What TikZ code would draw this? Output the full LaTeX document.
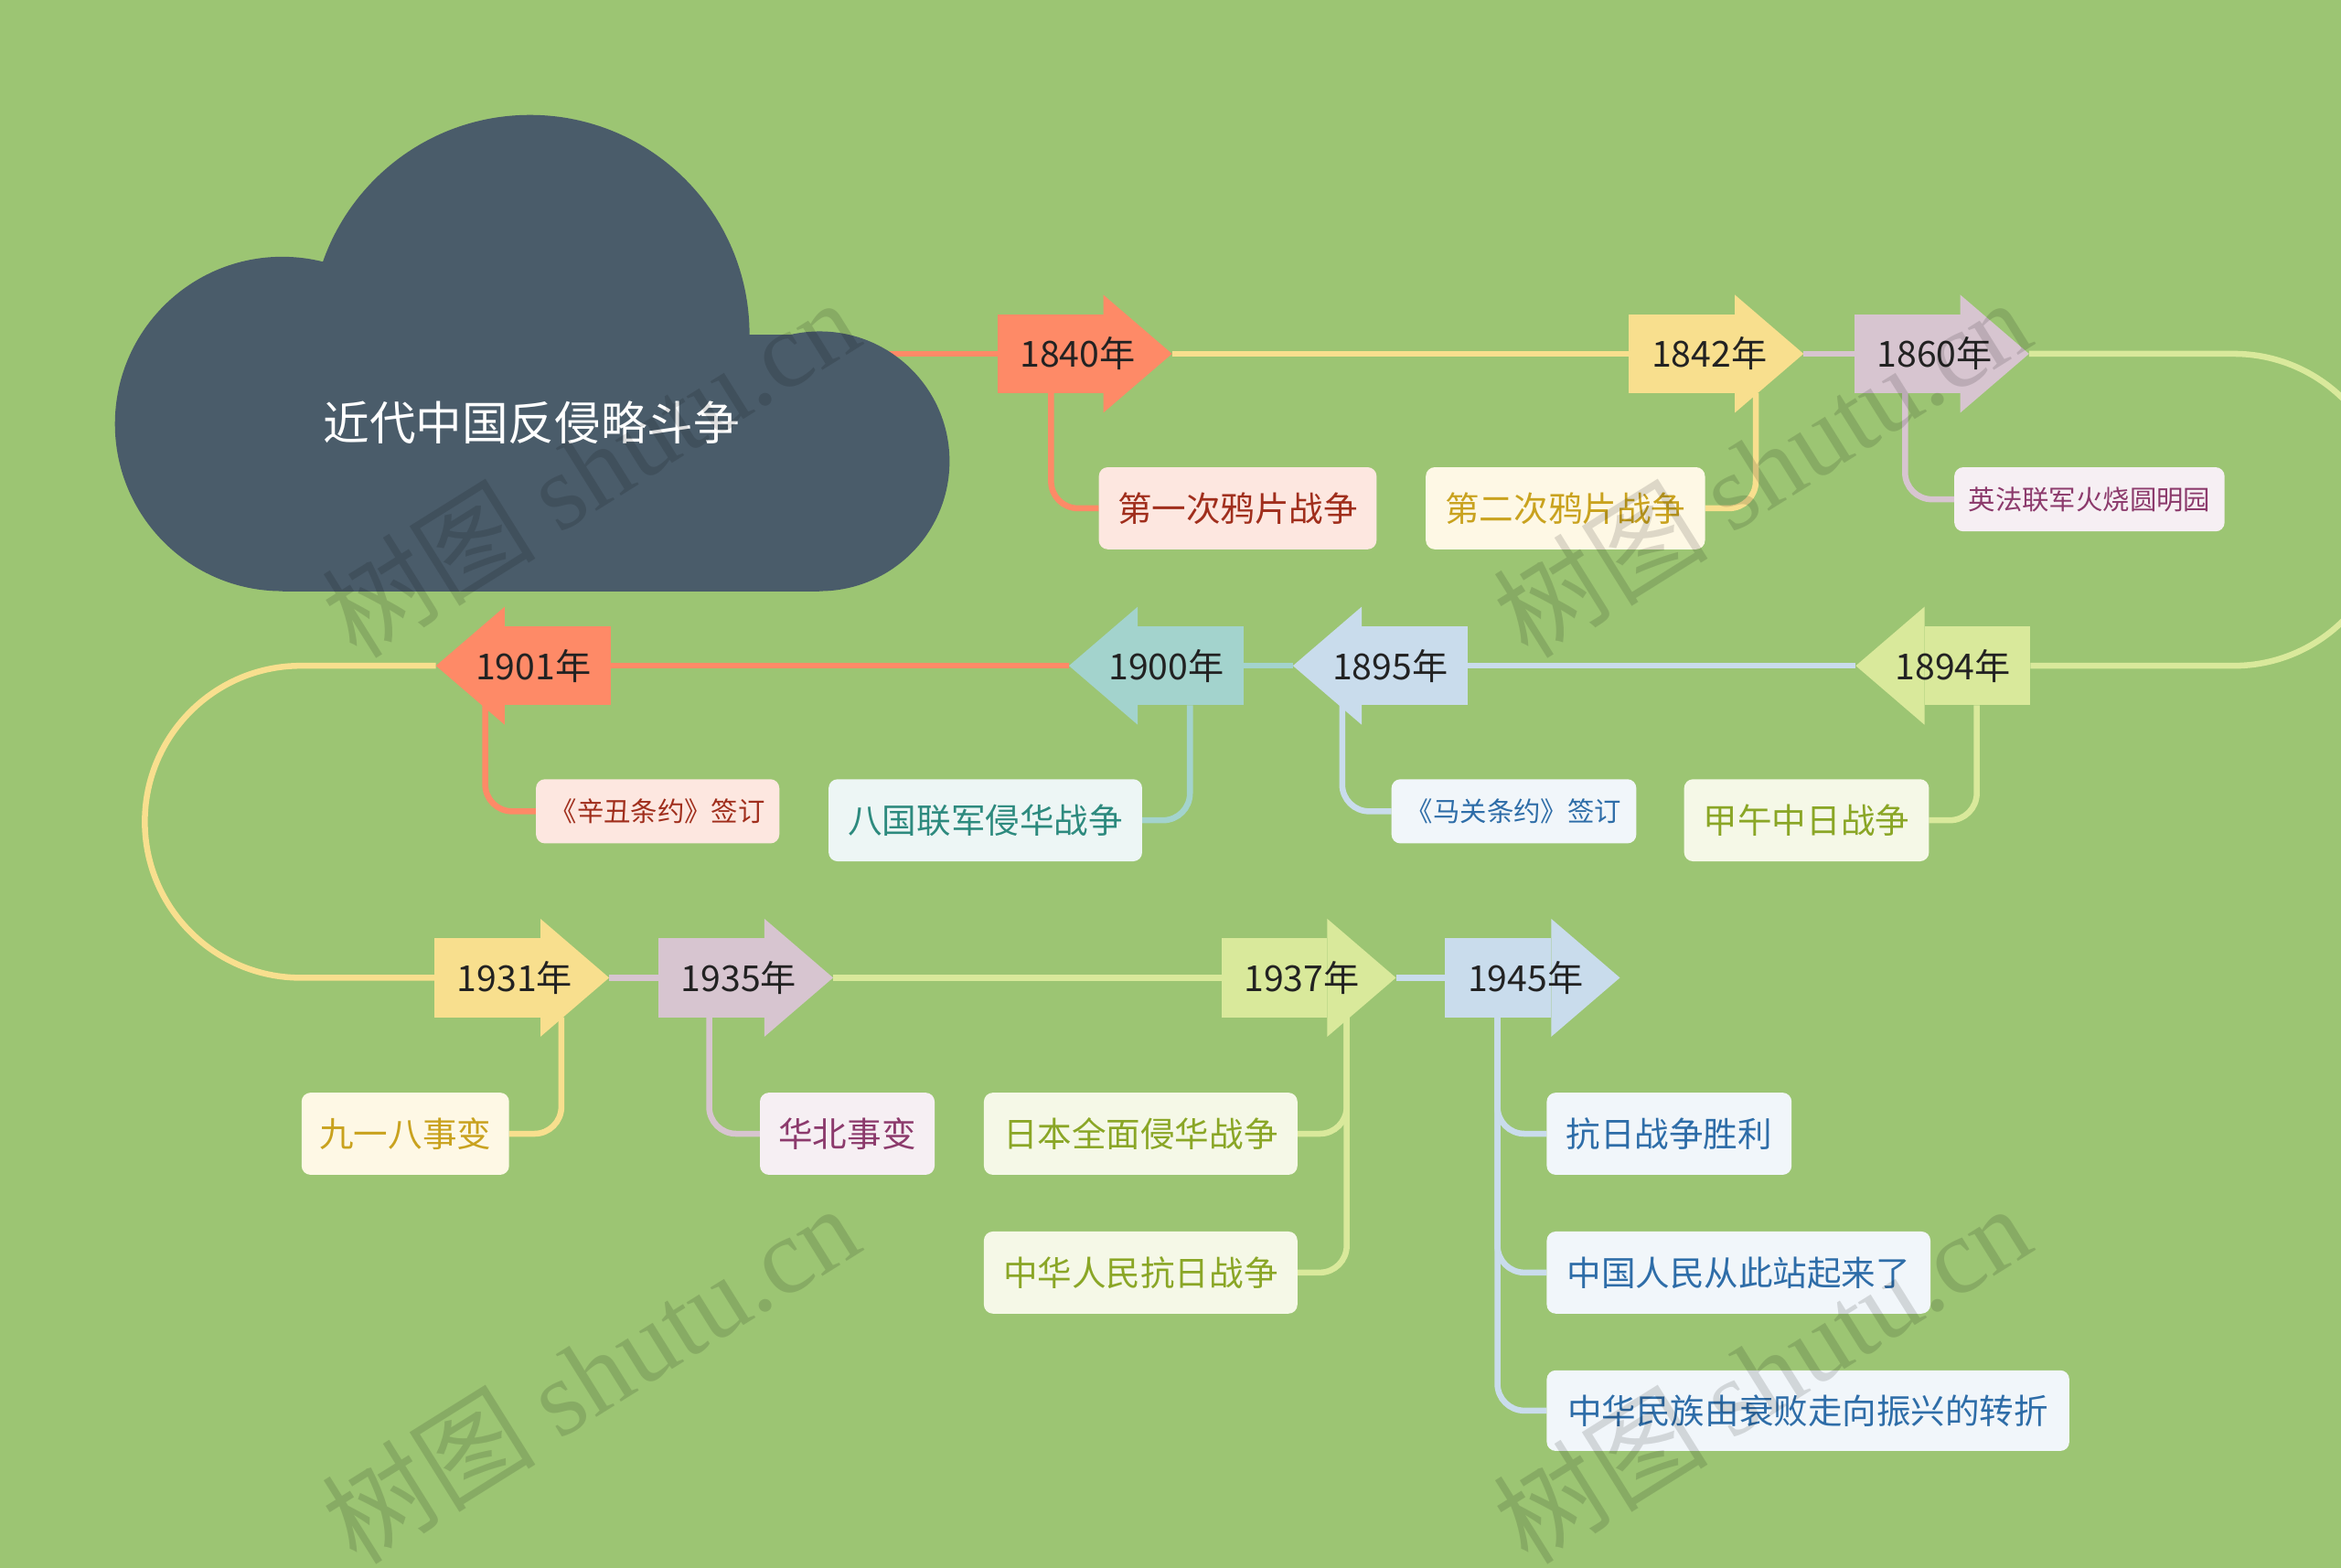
\documentclass[tikz,border=0pt]{standalone}
\usepackage{fontspec}
\newfontfamily\cjk{Noto Sans CJK SC}
\newfontfamily\wmserif{Liberation Serif}
\pgfdeclarelayer{bg}
\pgfsetlayers{bg,main}
\definecolor{bgc}{HTML}{9CC573}
\definecolor{cloudc}{HTML}{4A5C6A}
\definecolor{yrtxt}{HTML}{222222}
% arrow / line colours
\definecolor{aCoral}{HTML}{FE8A67}
\definecolor{aYellow}{HTML}{F8DF8E}
\definecolor{aLilac}{HTML}{D7C5D0}
\definecolor{aYG}{HTML}{D9E99B}
\definecolor{aLB}{HTML}{C9DCEC}
\definecolor{aTeal}{HTML}{A3D3CD}
% leaf fills
\definecolor{lCoral}{HTML}{FDE7E0}
\definecolor{lYellow}{HTML}{FEF8E5}
\definecolor{lLilac}{HTML}{F6EFF3}
\definecolor{lYG}{HTML}{F5F8E7}
\definecolor{lLB}{HTML}{F1F6FA}
\definecolor{lTeal}{HTML}{EDF6F5}
% leaf texts
\definecolor{tCoral}{HTML}{A02E1C}
\definecolor{tYellow}{HTML}{C9A21E}
\definecolor{tLilac}{HTML}{8C3A6C}
\definecolor{tYG}{HTML}{8AA626}
\definecolor{tLB}{HTML}{2E6DA8}
\definecolor{tTeal}{HTML}{2D8A7E}
\definecolor{wmc}{HTML}{000000}

\tikzset{
  yrbody/.style={minimum width=71pt, minimum height=53pt, inner sep=0pt, outer sep=0pt},
  yrtext/.style={font=\cjk\fontsize{24pt}{29pt}\selectfont, text=yrtxt, inner sep=0pt},
  leaf/.style={rounded corners=6pt, inner sep=0pt, outer sep=0pt, anchor=north west},
  big/.style={leaf, font=\cjk\fontsize{23pt}{28pt}\selectfont, minimum height=55pt},
  small/.style={leaf, font=\cjk\fontsize{18pt}{22pt}\selectfont, minimum height=43pt},
  fCoral/.style={fill=lCoral, text=tCoral},
  fYellow/.style={fill=lYellow, text=tYellow},
  fLilac/.style={fill=lLilac, text=tLilac},
  fYG/.style={fill=lYG, text=tYG},
  fLB/.style={fill=lLB, text=tLB},
  fTeal/.style={fill=lTeal, text=tTeal},
  tl/.style={line width=4pt},
  conn/.style={line width=4pt, rounded corners=18pt},
  wm/.style={font=\fontsize{72pt}{76pt}\selectfont, text=wmc, text opacity=0.13, rotate=32},
}

% right-pointing year arrow: name, body-left x, y, colour, label
\newcommand\yearR[5]{%
  \node[yrbody, fill=#4, anchor=west] (#1) at (#2,#3) {};
  \fill[#4] ([yshift=13pt]#1.north east) -- ([xshift=46pt]#1.east) -- ([yshift=-13pt]#1.south east) -- cycle;
  \node[yrtext, anchor=west] (#1-t) at ([xshift=15pt]#1.west) {#5};
  \coordinate (#1-tip) at ([xshift=46pt]#1.east);
}
% left-pointing year arrow: name, body-right x, y, colour, label
\newcommand\yearL[5]{%
  \node[yrbody, fill=#4, anchor=east] (#1) at (#2,#3) {};
  \fill[#4] ([yshift=13pt]#1.north west) -- ([xshift=-46pt]#1.west) -- ([yshift=-13pt]#1.south west) -- cycle;
  \node[yrtext, anchor=east] (#1-t) at ([xshift=-13pt]#1.east) {#5};
  \coordinate (#1-tip) at ([xshift=-46pt]#1.west);
}

\begin{document}
\begin{tikzpicture}[x=1pt, y=-1pt]
\useasboundingbox (0,0) rectangle (1568,1050.4);
\begin{pgfonlayer}{bg}
  \fill[bgc] (0,0) rectangle (1568,1050.4);
\end{pgfonlayer}

% cloud
\fill[cloudc] (189,284) circle[radius=112pt];
\fill[cloudc] (355,224) circle[radius=147pt];
\fill[cloudc] (549,309) circle[radius=87pt];
\fill[cloudc] (189,224) rectangle (549,396);
\node[font=\cjk\fontsize{31pt}{36pt}\selectfont, text=white] (root) at (356,283) {近代中国反侵略斗争};

% year arrows
\yearR{y1840}{668}{237}{aCoral}{1840年}
\yearR{y1842}{1091}{237}{aYellow}{1842年}
\yearR{y1860}{1242}{237}{aLilac}{1860年}
\yearL{y1894}{1360}{446}{aYG}{1894年}
\yearL{y1895}{983}{446}{aLB}{1895年}
\yearL{y1900}{833}{446}{aTeal}{1900年}
\yearL{y1901}{409}{446}{aCoral}{1901年}
\yearR{y1931}{291}{655}{aYellow}{1931年}
\yearR{y1935}{441}{655}{aLilac}{1935年}
\yearR{y1937}{818}{655}{aYG}{1937年}
\yearR{y1945}{968}{655}{aLB}{1945年}

% leaves
\node[big, fCoral, minimum width=186pt] (b1) at (736,313) {第一次鸦片战争};
\node[big, fYellow, minimum width=187pt] (b2) at (955,313) {第二次鸦片战争};
\node[small, fLilac, minimum width=181pt] (b3) at (1309,313) {英法联军火烧圆明园};
\node[big, fYG, minimum width=164pt] (b4) at (1128,522) {甲午中日战争};
\node[small, fLB, minimum width=164pt] (b5) at (932,522) {《马关条约》签订};
\node[big, fTeal, minimum width=210pt] (b6) at (555,522) {八国联军侵华战争};
\node[small, fCoral, minimum width=163pt] (b7) at (359,522) {《辛丑条约》签订};
\node[big, fYellow, minimum width=139pt] (b8) at (202,732) {九一八事变};
\node[big, fLilac, minimum width=117pt] (b9) at (509,732) {华北事变};
\node[big, fYG, minimum width=210pt] (b10) at (659,732) {日本全面侵华战争};
\node[big, fYG, minimum width=210pt] (b11) at (659,825) {中华人民抗日战争};
\node[big, fLB, minimum width=164pt] (b12) at (1036,732) {抗日战争胜利};
\node[big, fLB, minimum width=257pt] (b13) at (1036,825) {中国人民从此站起来了};
\node[big, fLB, minimum width=350pt, minimum height=54pt] (b14) at (1036,918) {中华民族由衰败走向振兴的转折};

% connectors (behind)
\begin{pgfonlayer}{bg}
  \coordinate (rootout) at (590,237);
  \draw[tl, aCoral] (rootout) -- (y1840.west);
  \draw[tl, aYellow] (y1840-tip) -- (y1842.west);
  \draw[tl, aLilac] (y1842-tip) -- (y1860.west);
  \draw[tl, aYG] (y1860-tip) -- (1496,237) arc[start angle=90, end angle=-90, radius=104.5pt] -- (y1894.east);
  \draw[tl, aLB] (y1894-tip) -- (y1895.east);
  \draw[tl, aTeal] (y1895-tip) -- (y1900.east);
  \draw[tl, aCoral] (y1900-tip) -- (y1901.east);
  \draw[tl, aYellow] (y1901-tip) -- (201.5,446) arc[start angle=90, end angle=270, radius=104.5pt] -- (y1931.west);
  \draw[tl, aLilac] (y1931-tip) -- (y1935.west);
  \draw[tl, aYG] (y1935-tip) -- (y1937.west);
  \draw[tl, aLB] (y1937-tip) -- (y1945.west);

  \draw[conn, aCoral] ([xshift=36pt]y1840.south west) |- (b1.west);
  \draw[conn, aYellow] ([xshift=85pt]y1842.south west) |- (b2.east);
  \draw[conn, aLilac] ([xshift=34pt]y1860.south west) |- (b3.west);
  \draw[conn, aYG] ([xshift=35pt]y1894.south west) |- (b4.east);
  \draw[conn, aLB] ([xshift=-13pt]y1895.south west) |- (b5.west);
  \draw[conn, aTeal] ([xshift=35pt]y1900.south west) |- (b6.east);
  \draw[conn, aCoral] ([xshift=-13pt]y1901.south west) |- (b7.west);
  \draw[conn, aYellow] ([xshift=85pt]y1931.south west) |- (b8.east);
  \draw[conn, aLilac] ([xshift=34pt]y1935.south west) |- (b9.west);
  \draw[conn, aYG] ([xshift=84pt]y1937.south west) |- (b10.east);
  \draw[conn, aYG] ([xshift=84pt]y1937.south west) |- (b11.east);
  \draw[conn, aLB] ([xshift=35pt]y1945.south west) |- (b12.west);
  \draw[conn, aLB] ([xshift=35pt]y1945.south west) |- (b13.west);
  \draw[conn, aLB] ([xshift=35pt]y1945.south west) |- (b14.west);
\end{pgfonlayer}

% watermarks
\node[wm] (wm1) at (395,313) {\cjk 树图 \wmserif shutu.cn};
\node[wm] (wm2) at (1180,313) {\cjk 树图 \wmserif shutu.cn};
\node[wm] (wm3) at (395,920) {\cjk 树图 \wmserif shutu.cn};
\node[wm] (wm4) at (1180,920) {\cjk 树图 \wmserif shutu.cn};
\end{tikzpicture}
\end{document}
